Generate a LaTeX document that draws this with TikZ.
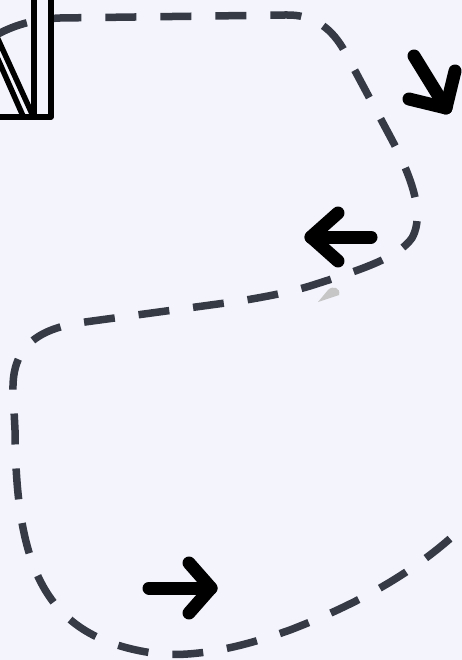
\documentclass[tikz,border=0pt]{standalone}
\begin{document}
\begin{tikzpicture}[x=1pt,y=-1pt,
  dashline/.style={line width=7.5pt, draw={rgb,255:red,54;green,58;blue,68}, dash pattern=on 31pt off 24pt},
  boxline/.style={line width=5.5pt, draw=black, line join=round},
  bigarrow/.style={line width=13pt, draw=black, line cap=round, line join=round}]
\definecolor{bgc}{RGB}{243,244,252}
\fill[bgc] (0,0) rectangle (462,660);
\useasboundingbox (0,0) rectangle (462,660);
% dashed loop
\draw[dashline] (-2,34) .. controls (15,25) and (35,19) .. (60,18) -- (285,15)
  .. controls (315,14) and (333,30) .. (345,52) -- (392,140)
  .. controls (412,178) and (425,215) .. (412,238)
  .. controls (398,258) and (360,270) .. (310,286)
  .. controls (290,292) and (270,296) .. (240,301) -- (85,322)
  .. controls (40,328) and (12,345) .. (13,390) -- (15,430)
  .. controls (16,570) and (45,640) .. (160,654)
  .. controls (200,657) and (245,646) .. (290,630)
  .. controls (360,603) and (420,570) .. (470,520);
% box at top left
\draw[boxline] (34,-5) -- (34,117);
\draw[boxline] (-5,117) -- (51,117) -- (51,-5);
\draw[boxline] (-3,37) -- (33,116);
\draw[boxline] (-3,57) -- (23,116);
% gray blob
\fill[gray!45] (318,302) -- (328,290) .. controls (333,285) and (341,288) .. (339,295) -- cycle;
% arrows
\draw[bigarrow] (414,56) -- (446,108);
\draw[bigarrow] (409,99) -- (446,108) -- (455,71);
\draw[bigarrow] (371,237) -- (311,237);
\draw[bigarrow] (338,213) -- (311,237) -- (338,261);
\draw[bigarrow] (149,588) -- (211,588);
\draw[bigarrow] (189,563) -- (211,588) -- (189,613);
\end{tikzpicture}
\end{document}
